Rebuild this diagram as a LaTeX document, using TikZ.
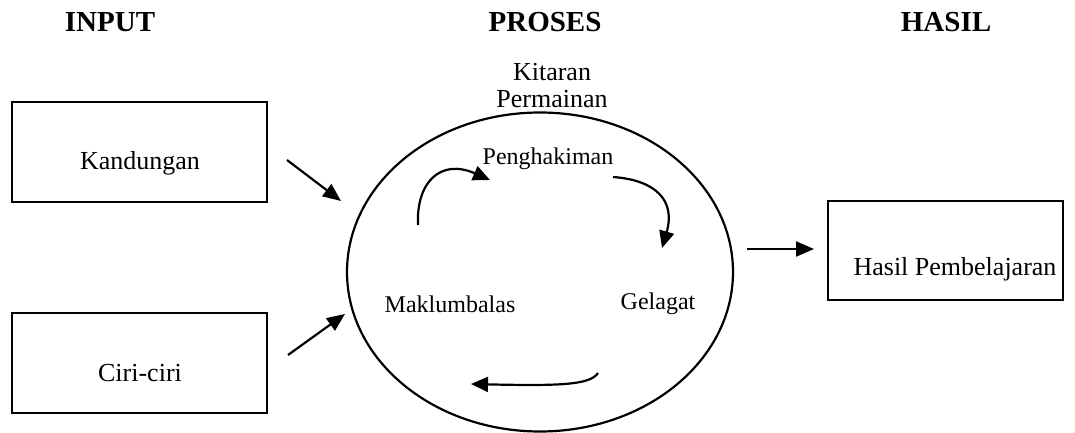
\documentclass[tikz,border=0pt]{standalone}
\usepackage{fontspec}
\setmainfont{Liberation Serif}
\usetikzlibrary{arrows.meta,shapes.geometric}
\begin{document}
\begin{tikzpicture}[x=1pt,y=-1pt,
  box/.style={draw,line width=2.2pt,inner sep=0pt},
  title/.style={font=\fontsize{29}{32}\selectfont\bfseries,inner sep=0pt},
  lbl/.style={font=\fontsize{26}{30}\selectfont,inner sep=0pt},
  inlbl/.style={font=\fontsize{24}{28}\selectfont,inner sep=0pt},
  arr/.style={line width=2.2pt,-{Triangle[length=18pt,width=15pt]}},
  carr/.style={line width=2.2pt,-{Triangle[length=17pt,width=15pt]}}]
\useasboundingbox (0,0) rectangle (1075,433);
% titles
\node[title] (tin) at (110,22) {INPUT};
\node[title] (tpr) at (545,22) {PROSES};
\node[title] (tha) at (946,22) {HASIL};
% Kitaran label
\node[lbl,align=center] (kit) at (552,86) {Kitaran\\[-3pt]Permainan};
% input boxes
\node[box,minimum width=255pt,minimum height=100pt] (kand) at (139.5,152) {};
\node[lbl] (kandt) at (140,163) {Kandungan};
\node[box,minimum width=255pt,minimum height=100pt] (ciri) at (139.5,363) {};
\node[lbl] (cirit) at (140,373) {Ciri-ciri};
% process ellipse
\node[draw,ellipse,line width=2.2pt,minimum width=386pt,minimum height=319pt,inner sep=0pt] (proc) at (540,272) {};
\node[inlbl] (peng) at (548,159) {Penghakiman};
\node[inlbl] (makl) at (450,304) {Maklumbalas};
\node[inlbl] (gela) at (658,304) {Gelagat};
% result box
\node[box,minimum width=235pt,minimum height=99pt] (hasil) at (945.5,250.5) {};
\node[lbl] (hasilt) at (955,269) {Hasil Pembelajaran};
% arrow coordinates
\coordinate (a1s) at (287,160);
\coordinate (a1e) at (341,201);
\coordinate (a2s) at (288,355);
\coordinate (a2e) at (345,314);
\coordinate (a3s) at (747,249);
\coordinate (a3e) at (814,249);
\draw[arr] (a1s) -- (a1e);
\draw[arr] (a2s) -- (a2e);
\draw[arr] (a3s) -- (a3e);
% cycle arrows
\coordinate (c1s) at (418,225);
\coordinate (c1e) at (490,180);
\coordinate (c2s) at (613,177);
\coordinate (c2e) at (662,248);
\coordinate (c3s) at (598,373);
\coordinate (c3e) at (471,384);
\draw[carr] (c1s) .. controls (416,183) and (440,158) .. (c1e);
\draw[carr] (c2s) .. controls (655,180) and (676,200) .. (c2e);
\draw[carr] (c3s) .. controls (590,385) and (560,386) .. (c3e);
\end{tikzpicture}
\end{document}
